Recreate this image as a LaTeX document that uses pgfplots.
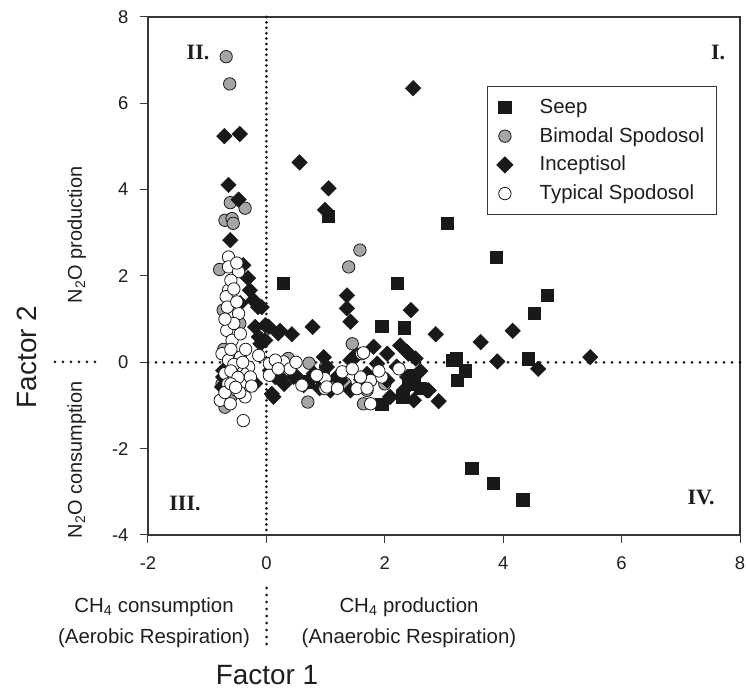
\documentclass[border=0pt]{standalone}
\usepackage{pgfplots}
\pgfplotsset{compat=1.18}
\usepackage{fontspec}
\setmainfont{Liberation Sans}
\newfontfamily\serifb{Liberation Serif}[BoldFont={Liberation Serif Bold}]
\definecolor{axgray}{RGB}{55,55,55}
\definecolor{bigray}{RGB}{165,165,165}
\definecolor{mkblack}{RGB}{25,25,25}
\definecolor{txt}{RGB}{30,30,30}
\begin{document}
\begin{tikzpicture}[x=1bp,y=1bp]
\useasboundingbox (-148,-157) rectangle (598,535);
\begin{axis}[
  scale only axis, width=592bp, height=518bp,
  xmin=-2, xmax=8, ymin=-4, ymax=8,
  xtick={-2,0,2,4,6,8}, ytick={-4,-2,0,2,4,6,8},
  xtick pos=bottom, ytick pos=left,
  tick align=outside, major tick length=8bp,
  tick style={draw=axgray, line width=1bp},
  axis line style={draw=axgray, line width=1.2bp},
  /pgf/number format/assume math mode=true,
  ticklabel style={font=\fontsize{18.5}{20}\selectfont, text=txt},
  xticklabel style={yshift=-10bp},
  yticklabel style={xshift=-8bp},
  clip=false,
  legend style={at={(rel axis cs:0.961,0.867)}, anchor=north east,
    draw=axgray, line width=1.2bp, fill=white,
    font=\fontsize{20.5}{22}\selectfont, text=txt,
    inner xsep=10bp, inner ysep=9bp, row sep=4.7bp,
    nodes={inner sep=2bp, text height=16bp, text depth=4bp},
    /tikz/every odd column/.append style={column sep=25bp}},
  legend cell align=left,
  legend image code/.code={\draw[#1] plot coordinates {(0bp,0bp)};},
]
% quadrant dotted lines
\draw[black!90, line width=3bp, line cap=round, dash pattern=on 0bp off 8bp] (axis cs:-2,0) -- (axis cs:8,0);
\draw[black!90, line width=3bp, line cap=round, dash pattern=on 0bp off 5.4bp] (axis cs:0,8) -- (axis cs:0,-4);

\addplot[only marks, mark=square*, mark size=6.2bp, draw=mkblack, fill=mkblack] coordinates {
(0.28,1.83) (2.21,1.83) (1.04,3.39) (3.05,3.22) (3.88,2.43) (4.74,1.55) (4.52,1.14)
(1.95,0.84) (2.33,0.80) (4.42,0.08) (3.14,0.05) (3.21,0.09) (3.36,-0.19) (3.22,-0.42)
(3.47,-2.45) (3.83,-2.80) (4.33,-3.18) (1.95,-0.97) (2.40,-0.50) (2.50,-0.30) (2.30,-0.80)
(2.60,-0.60) (0.70,-0.45) (0.95,-0.35) (1.20,-0.50)
};
\addlegendentry{Seep}
\addplot[only marks, mark=*, mark size=6.2bp, draw=mkblack, fill=bigray, line width=0.8bp] coordinates {
(-0.68,7.08) (-0.62,6.45) (-0.61,3.70) (-0.36,3.57) (-0.70,3.29) (-0.58,3.33) (-0.56,3.22)
(1.58,2.60) (1.39,2.21) (-0.79,2.15) (-0.73,1.21) (1.45,0.43) (0.72,-0.02) (0.37,0.09)
(0.70,-0.92) (1.10,-0.59) (1.33,-0.49) (1.64,-0.96) (1.70,-0.65) (-0.70,-1.04) (-0.75,-0.50)
(-0.72,0.30) (-0.60,-0.80) (-0.45,0.90) (1.00,-0.10) (2.00,-0.50)
};
\addlegendentry{Bimodal Spodosol}
\addplot[only marks, mark=square*, mark size=5.5bp, draw=mkblack, fill=mkblack, every mark/.append style={rotate=45}] coordinates {
(2.48,6.35) (-0.71,5.24) (-0.45,5.29) (0.56,4.63) (1.05,4.03) (0.99,3.53) (-0.64,4.11)
(-0.47,3.77) (-0.61,2.83) (1.36,1.55) (1.36,1.25) (1.42,0.94) (2.44,1.21) (2.86,0.65)
(3.62,0.47) (4.16,0.73) (3.90,0.02) (4.59,-0.15) (5.47,0.12) (0.78,0.82) (0.43,0.65)
(0.23,0.73) (0.04,0.82) (-0.08,1.28) (2.74,-0.65) (2.91,-0.90) (0.97,0.12) (2.26,0.39)
(2.38,0.24) (2.52,0.09) (-0.39,2.25) (-0.31,1.95) (-0.28,1.67) (-0.22,1.44) (-0.14,1.28)
(-0.02,0.86) (-0.13,0.59) (-0.10,0.43) (0.12,-0.80) (-0.73,-0.34) (-0.75,-0.57)
(1.81,0.36) (2.04,0.20) (2.40,0.20) (1.53,0.16) (1.42,0.05) (1.87,-0.03) (0.52,-0.34)
(0.74,-0.42) (1.19,-0.34) (1.42,-0.65) (2.04,-0.42) (2.09,-0.80) (2.38,-0.34) (2.32,-0.65)
(2.49,-0.88) (2.71,-0.65) (1.70,-0.27) (1.08,-0.65) (0.06,-0.19) (0.23,-0.34) (0.46,-0.34)
(0.63,-0.53) (0.80,-0.26) (1.02,-0.11) (1.25,-0.42) (1.47,0.12) (-0.44,1.37) (2.20,-0.10)
(1.60,-0.40) (2.60,-0.20) (0.30,-0.50) (0.90,-0.60) (-0.73,-0.19) (-0.70,-0.57) (-0.19,0.82)
(0.20,0.67) (-0.02,0.51) (0.09,-0.73) (-0.19,-0.49) (0.15,-0.34)
};
\addlegendentry{Inceptisol}
\addplot[only marks, mark=*, mark size=6.2bp, draw=mkblack, fill=white, line width=0.8bp] coordinates {
(-0.64,2.44) (-0.64,2.21) (-0.47,2.10) (-0.64,1.67) (-0.68,1.52) (-0.66,1.28) (-0.47,1.13)
(-0.67,0.74) (-0.58,0.51) (-0.44,0.66) (-0.75,0.20) (-0.64,0.05) (-0.44,0.12) (-0.30,-0.11)
(-0.13,0.16) (-0.44,-0.49) (-0.50,-0.65) (-0.78,-0.88) (-0.61,-0.96) (-0.36,-0.80) (-0.70,-0.26)
(-0.39,-0.26) (-0.27,-0.34) (-0.39,-1.35) (0.05,-0.03) (0.05,-0.30) (0.29,0.01) (0.40,-0.15)
(0.60,-0.53) (0.99,-0.38) (1.28,-0.22) (1.53,-0.61) (1.61,0.20) (1.76,-0.42) (1.95,-0.34)
(2.24,-0.15) (1.76,-0.96) (0.99,-0.61) (1.02,-0.57) (1.59,-0.34) (1.64,0.22) (-0.55,0.90)
(-0.60,0.30) (-0.50,-0.10) (-0.55,-0.30) (-0.65,-0.50) (-0.45,-0.70) (-0.70,-0.70) (-0.60,1.90)
(-0.50,1.40) (-0.55,-0.05) (-0.35,0.30) (-0.25,-0.55) (-0.60,-0.20) (-0.48,-0.35) (-0.40,0.00)
(0.15,0.05) (0.50,0.00) (0.20,-0.15) (1.70,-0.60) (1.45,-0.15) (0.85,-0.30) (1.20,-0.60)
(1.90,-0.20) (-0.70,1.00) (-0.55,1.70) (-0.50,2.30) (-0.60,-0.50) (-0.52,-0.58)
};
\addlegendentry{Typical Spodosol}
\end{axis}
% quadrant labels
\node[font=\serifb\bfseries\fontsize{22}{24}\selectfont, text=txt] at (50,483) {II.};
\node[font=\serifb\bfseries\fontsize{22}{24}\selectfont, text=txt] at (570,483) {I.};
\node[font=\serifb\bfseries\fontsize{22}{24}\selectfont, text=txt] at (37,32) {III.};
\node[font=\serifb\bfseries\fontsize{22}{24}\selectfont, text=txt] at (553,38) {IV.};
% left labels
\node[rotate=90, anchor=base, inner sep=0pt, text=txt, font=\fontsize{28}{30}\selectfont] at (-111,178) {Factor 2};
\node[rotate=90, anchor=base, inner sep=0pt, text=txt, font=\fontsize{20}{22}\selectfont] at (-66,300) {N\textsubscript{2}O production};
\node[rotate=90, anchor=base, inner sep=0pt, text=txt, font=\fontsize{20}{22}\selectfont] at (-66,75) {N\textsubscript{2}O consumption};
\draw[black!90, line width=3bp, line cap=round, dash pattern=on 0bp off 8bp] (-93,173) -- (-45,173);
% bottom labels
\node[anchor=base, inner sep=0pt, text=txt, font=\fontsize{20.5}{22}\selectfont] at (6,-77) {CH\textsubscript{4} consumption};
\node[anchor=base, inner sep=0pt, text=txt, font=\fontsize{20.5}{22}\selectfont] at (6,-108) {(Aerobic Respiration)};
\node[anchor=base, inner sep=0pt, text=txt, font=\fontsize{20.5}{22}\selectfont] at (261,-77) {CH\textsubscript{4} production};
\node[anchor=base, inner sep=0pt, text=txt, font=\fontsize{20.5}{22}\selectfont] at (261,-108) {(Anaerobic Respiration)};
\draw[black!90, line width=3bp, line cap=round, dash pattern=on 0bp off 7bp] (118.7,-53) -- (118.7,-110);
\node[anchor=base, inner sep=0pt, text=txt, font=\fontsize{28}{30}\selectfont] at (119,-149) {Factor 1};
\end{tikzpicture}
\end{document}
